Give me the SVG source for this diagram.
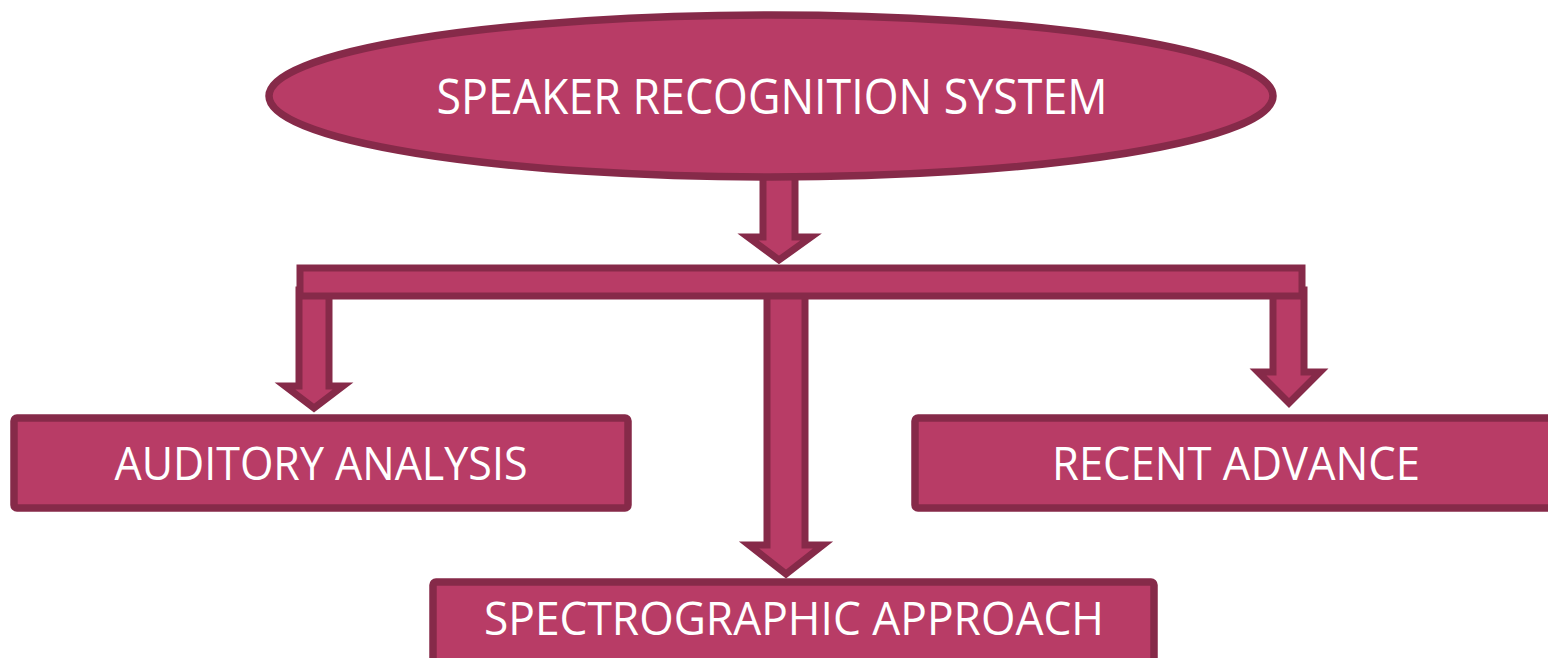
<svg xmlns="http://www.w3.org/2000/svg" width="1548" height="658" viewBox="0 0 1548 658">
<style>
.shape{fill:#B83C66;stroke:#862A49;stroke-width:7;stroke-linejoin:miter;stroke-miterlimit:10}
.box{fill:#B83C66;stroke:#862A49;stroke-width:7.5}
.lbl{font-family:"Open Sans","DejaVu Sans",sans-serif;fill:#FFFFFF;text-anchor:middle}
</style>
<rect width="1548" height="658" fill="#FFFFFF"/>
<g id="connectors">
  <polygon class="shape" points="763,170 795,170 795,237 811,237 779,260 748,237 763,237"/>
  <polygon class="shape" points="299,290 329,290 329,386 343,386 314,408 285,386 299,386"/>
  <polygon class="shape" points="767,290 805,290 805,545 823,545 786,574 749,545 767,545"/>
  <polygon class="shape" points="1273,290 1304,290 1304,372 1320,372 1289,403 1258,372 1273,372"/>
  <rect id="bar" class="shape" x="300" y="268" width="1002" height="28"/>
</g>
<g id="node-speaker">
  <ellipse class="box" cx="771" cy="96" rx="502" ry="81"/>
  <text class="lbl" x="772" y="114" font-size="50" textLength="671" lengthAdjust="spacingAndGlyphs">SPEAKER RECOGNITION SYSTEM</text>
</g>
<g id="node-auditory">
  <rect class="box" x="14" y="418" width="614" height="90" rx="3"/>
  <text class="lbl" x="321" y="480" font-size="46" textLength="413" lengthAdjust="spacingAndGlyphs">AUDITORY ANALYSIS</text>
</g>
<g id="node-recent">
  <rect class="box" x="915" y="418" width="650" height="90" rx="3"/>
  <text class="lbl" x="1236" y="480" font-size="46" textLength="368" lengthAdjust="spacingAndGlyphs">RECENT ADVANCE</text>
</g>
<g id="node-spectro">
  <rect class="box" x="433" y="582" width="721" height="100" rx="3"/>
  <text class="lbl" x="794" y="635" font-size="46" textLength="620" lengthAdjust="spacingAndGlyphs">SPECTROGRAPHIC APPROACH</text>
</g>
</svg>
